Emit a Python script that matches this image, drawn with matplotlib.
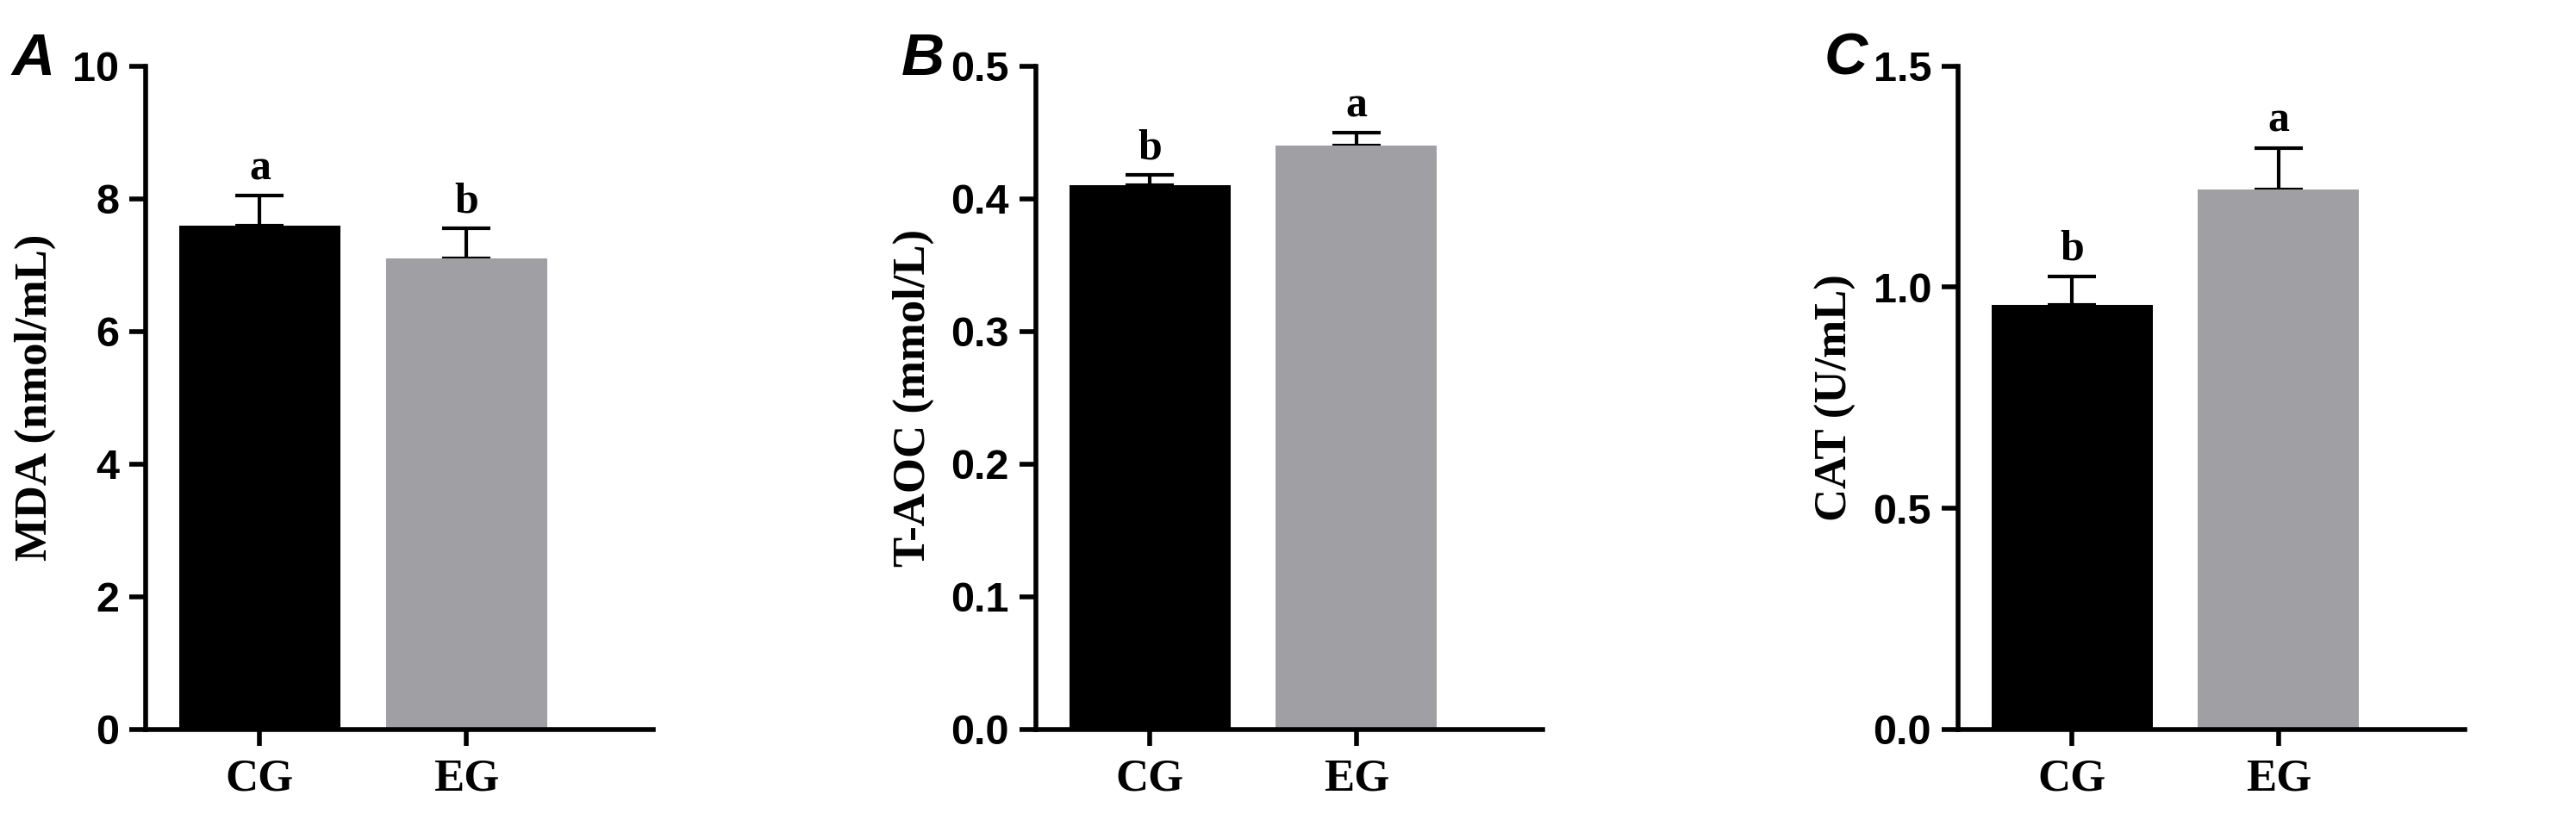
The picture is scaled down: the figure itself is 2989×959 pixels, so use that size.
import matplotlib
matplotlib.use("Agg")
import matplotlib.pyplot as plt

# ==================== data ====================
groups = ['CG', 'EG']
mda = [7.6, 7.1]
mda_err = [0.45, 0.45]
taoc = [0.41, 0.44]
taoc_err = [0.008, 0.01]
cat = [0.96, 1.22]
cat_err = [0.065, 0.095]
letters_mda = ['a', 'b']
letters_taoc = ['b', 'a']
letters_cat = ['b', 'a']

panels = [
    ('A', mda, mda_err, letters_mda, 'MDA (nmol/mL)', (0, 10), [0, 2, 4, 6, 8, 10], '{:.0f}'),
    ('B', taoc, taoc_err, letters_taoc, 'T-AOC (mmol/L)', (0, 0.5), [0, 0.1, 0.2, 0.3, 0.4, 0.5], '{:.1f}'),
    ('C', cat, cat_err, letters_cat, 'CAT (U/mL)', (0, 1.5), [0, 0.5, 1.0, 1.5], '{:.1f}'),
]
colors = ['#000000', '#A0A0A4']
lefts = [0.0565, 0.402, 0.760]

fig = plt.figure(figsize=(29.89, 9.59), dpi=100)
serif = 'Liberation Serif'
sans = 'Liberation Sans'

for left, (tag, vals, errs, lets, ylabel, ylim, yticks, fmt) in zip(lefts, panels):
    ax = fig.add_axes([left, 0.117, 0.197, 0.803])
    x = [0, 1]
    ax.bar(x, vals, width=0.78, color=colors, zorder=2)
    ax.errorbar(x, vals, yerr=[[0, 0], errs], fmt='none', ecolor='black',
                elinewidth=3, capsize=20, capthick=3, zorder=1)
    ax.set_xlim(-0.553, 1.904)
    ax.set_ylim(*ylim)
    ax.set_yticks(yticks)
    ax.set_yticklabels([fmt.format(t) for t in yticks], fontfamily=sans,
                       fontweight='bold', fontsize=35)
    ax.set_xticks(x)
    ax.set_xticklabels(groups, fontfamily=serif, fontweight='bold', fontsize=38)
    ax.set_ylabel(ylabel, fontfamily=serif, fontweight='bold', fontsize=38, labelpad=14)
    for s in ['top', 'right']:
        ax.spines[s].set_visible(False)
    for s in ['left', 'bottom']:
        ax.spines[s].set_linewidth(4)
    ax.tick_params(axis='y', width=4, length=14, pad=8)
    ax.tick_params(axis='x', width=4, length=14, pad=10)
    span = ylim[1] - ylim[0]
    for xi, v, e, l in zip(x, vals, errs, lets):
        ax.text(xi, v + e + span * 0.01, l, ha='center', va='bottom',
                fontfamily=serif, fontweight='bold', fontsize=36)
    fig.text(left - 0.052, 0.895, tag, fontfamily=sans, fontweight='bold',
             fontstyle='italic', fontsize=50, va='bottom')

plt.savefig('out.png', dpi=100)
plt.close()
